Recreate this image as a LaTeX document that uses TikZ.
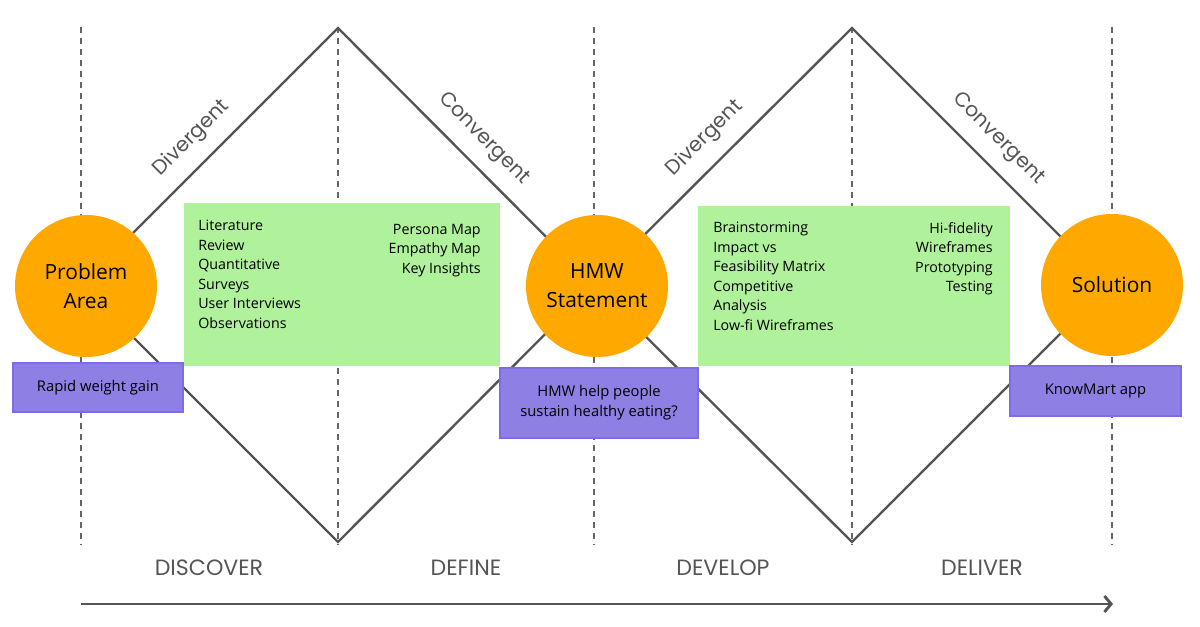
\documentclass[tikz,border=0pt]{standalone}
\usepackage{fontspec}
\setmainfont{Open Sans}
\newfontfamily\poppins{Poppins}
\usepackage{xcolor}
\usepackage{tikz}
\usetikzlibrary{arrows.meta}

\definecolor{linegray}{HTML}{555555}
\definecolor{stageorange}{HTML}{FFA800}
\definecolor{notegreen}{HTML}{B0F19C}
\definecolor{notepurple}{HTML}{8D7FE3}
\definecolor{purpleedge}{HTML}{7E6CE6}

\begin{document}
\begin{tikzpicture}[x=0.75pt,y=-0.75pt,
  stage/.style={circle,fill=stageorange,minimum size=106.5pt,inner sep=0pt,align=center,font=\fontsize{15.7}{21.75}\selectfont},
  notebox/.style={fill=notegreen,inner sep=0pt},
  outcome/.style={fill=notepurple,draw=purpleedge,line width=0.8pt,align=center,inner sep=0pt,font=\fontsize{11.1}{14.8}\selectfont},
  items/.style={inner sep=0pt,font=\fontsize{10.7}{14.6}\selectfont},
  guide/.style={linegray!90,line width=1.1pt,dash pattern=on 4.5pt off 3.75pt},
  phaseline/.style={linegray,line width=1.8pt},
  slopelabel/.style={sloped,midway,above=7pt,font=\poppins\fontsize{15.3}{17}\selectfont,text=linegray},
  phase/.style={font=\poppins\fontsize{16.6}{18}\selectfont,text=linegray}
]
\useasboundingbox (0,0) rectangle (1200,627);

% dashed guides
\foreach \x in {81,338,594,852,1112}
  \draw[guide] (\x,27) -- (\x,545);

% double diamond
\coordinate (start) at (81,285);
\coordinate (top1) at (338,28);
\coordinate (bot1) at (338,542);
\coordinate (middle) at (594,285);
\coordinate (top2) at (852,28);
\coordinate (bot2) at (852,542);
\coordinate (finish) at (1109,285);

\draw[phaseline] (start) -- (top1) node[slopelabel]{Divergent}
  -- (middle) node[slopelabel]{Convergent}
  -- (top2) node[slopelabel]{Divergent}
  -- (finish) node[slopelabel]{Convergent};
\draw[phaseline] (start) -- (bot1) -- (middle) -- (bot2) -- (finish);

% methods
\node[notebox,minimum width=237pt,minimum height=122.25pt] (research) at (341.5,284.5) {};
\node[items,anchor=north west,align=left] (researchL) at (198,220)
  {Literature\\Review\\Quantitative\\Surveys\\User Interviews\\Observations};
\node[items,anchor=north east,align=right] (researchR) at (481,224)
  {Persona Map\\Empathy Map\\Key Insights};

\node[notebox,minimum width=234pt,minimum height=120pt] (ideation) at (854,286) {};
\node[items,anchor=north west,align=left] (ideationL) at (713,222)
  {Brainstorming\\Impact vs\\Feasibility Matrix\\Competitive\\Analysis\\Low-fi Wireframes};
\node[items,anchor=north east,align=right] (ideationR) at (993,222)
  {Hi-fidelity\\Wireframes\\Prototyping\\Testing};

% stages
\node[stage] (problem) at (86,286) {Problem\\Area};
\node[stage] (hmw) at (597,286) {HMW\\Statement};
\node[stage] (solution) at (1112,285) {Solution};

% outcomes
\node[outcome,minimum width=127.5pt,minimum height=36.75pt] (gain) at (98,387.5) {Rapid weight gain};
\node[outcome,minimum width=148.5pt,minimum height=52.5pt] (question) at (599,403) {HMW help people\\sustain healthy eating?};
\node[outcome,minimum width=128.25pt,minimum height=37.5pt] (app) at (1095.5,391) {KnowMart app};

% phases
\node[phase] (discover) at (209,568) {DISCOVER};
\node[phase] (define) at (466,568) {DEFINE};
\node[phase] (develop) at (723,568) {DEVELOP};
\node[phase] (deliver) at (982,568) {DELIVER};

\coordinate (arrowstart) at (81,604);
\coordinate (arrowend) at (1113,604);
\draw[linegray,line width=2.2pt,-{Straight Barb[length=5pt,width=12pt]}] (arrowstart) -- (arrowend);
\end{tikzpicture}
\end{document}
